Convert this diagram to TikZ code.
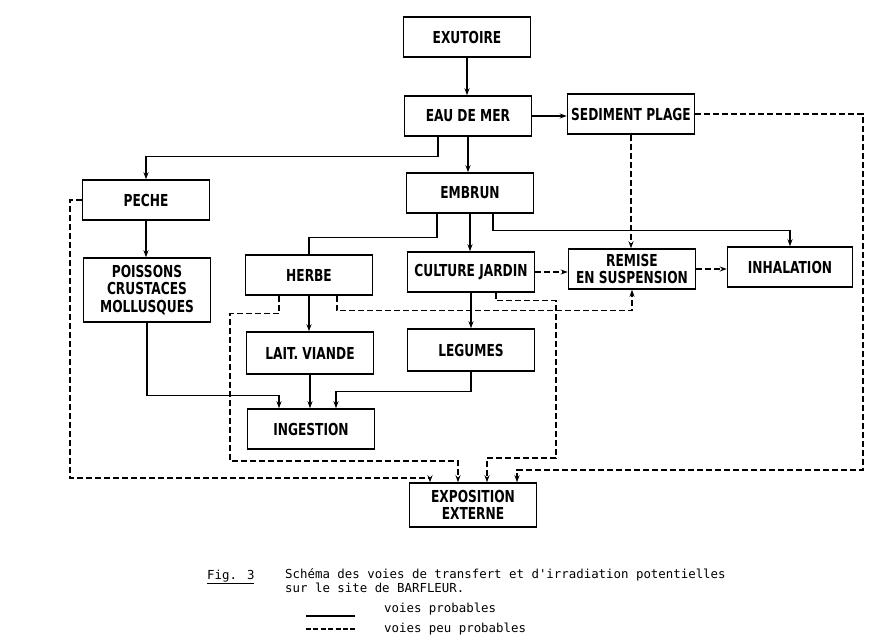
\documentclass[tikz,border=0pt]{standalone}
\usepackage{fontspec}
\usetikzlibrary{arrows.meta}
\newfontfamily\boxfont{DejaVu Sans}[FakeStretch=0.74]
\newfontfamily\capfont{DejaVu Sans Mono}
\begin{document}
\begin{tikzpicture}[x=1pt,y=-1pt,
box/.style={draw,line width=1.5pt,minimum width=127pt,minimum height=40pt,inner sep=0pt,align=center,font=\boxfont\bfseries\fontsize{16.5}{17.5}\selectfont},
pr/.style={line width=1.1pt},
pu/.style={line width=1.1pt,dash pattern=on 6pt off 3pt},
arr/.style={-{Stealth[length=7pt,width=5pt]}},
legtxt/.style={anchor=base west,inner sep=0pt,font=\capfont\fontsize{12.4}{14}\selectfont}]
\useasboundingbox (0,0) rectangle (878,638);
\node[box] (ex) at (467,37) {EXUTOIRE};
\node[box] (eau) at (468,116) {EAU DE MER};
\node[box] (sed) at (631,114) {SEDIMENT PLAGE};
\node[box] (pec) at (146,200) {PECHE};
\node[box] (emb) at (470,193) {EMBRUN};
\node[box,minimum height=64pt] (poi) at (147,290) {POISSONS\\CRUSTACES\\MOLLUSQUES};
\node[box] (her) at (309,275) {HERBE};
\node[box] (cul) at (471,272) {CULTURE JARDIN};
\node[box] (rem) at (632,269) {REMISE\\EN SUSPENSION};
\node[box,minimum width=125pt] (inh) at (790,267) {INHALATION};
\node[box,minimum height=42pt] (lai) at (310,353) {LAIT. VIANDE};
\node[box,minimum height=42pt] (leg) at (471,350) {LEGUMES};
\node[box] (ing) at (311,429) {INGESTION};
\node[box,minimum height=44pt] (exp) at (473,505) {EXPOSITION\\EXTERNE};
\coordinate (ws) at (863,470);
\coordinate (wh) at (230,461);
\coordinate (wc) at (556,458);
\coordinate (wp) at (70,478);
\draw[pr,arr] (ex.south) -- (ex.south |- eau.north);
\draw[pr,arr] (eau.east) -- (eau.east -| sed.west);
\draw[pr,arr] ([xshift=-30pt]eau.south) -- ++(0,20) -| (pec.north);
\draw[pr,arr] (eau.south) -- (eau.south |- emb.north);
\draw[pr] ([xshift=-33pt]emb.south) -- ++(0,24) -| (her.north);
\draw[pr,arr] (emb.south) -- (emb.south |- cul.north);
\draw[pr,arr] ([xshift=23pt]emb.south) -- ++(0,17) -| (inh.north);
\draw[pr,arr] (pec.south) -- (pec.south |- poi.north);
\draw[pr,arr] (her.south) -- (her.south |- lai.north);
\draw[pr,arr] (cul.south) -- (cul.south |- leg.north);
\draw[pr,arr] (lai.south) -- (lai.south |- ing.north);
\draw[pr,arr] (poi.south) |- ([xshift=-32pt,yshift=13pt]ing.north) -- ([xshift=-32pt]ing.north);
\draw[pr,arr] (leg.south) |- ([xshift=25pt,yshift=17pt]ing.north) -- ([xshift=25pt]ing.north);
\draw[pu,arr] (sed.south) -- (sed.south |- rem.north);
\draw[pu,arr] (cul.east) -- (cul.east -| rem.west);
\draw[pu,arr] (rem.east) -- (rem.east -| inh.west);
\draw[pu,arr] (sed.east) -| (ws) -| ([xshift=44pt]exp.north);
\draw[pu,arr] ([xshift=-30pt]her.south) -- ++(0,18) -| (wh) -| ([xshift=-15pt]exp.north);
\draw[pu,arr] ([xshift=28pt]her.south) -- ++(0,15) -| (rem.south);
\draw[pu,arr] ([xshift=25pt]cul.south) -- ++(0,8) -| (wc) -| ([xshift=14pt]exp.north);
\draw[pu,arr] (pec.west) -| (wp) -| ([xshift=-43pt]exp.north);
\node[legtxt] (fig) at (207,579) {\underline{Fig. 3}};
\node[legtxt] (t1) at (285,578) {Schéma des voies de transfert et d'irradiation potentielles};
\node[legtxt] (t2) at (285,592) {sur le site de BARFLEUR.};
\node[legtxt] (l1) at (384,612) {voies probables};
\node[legtxt] (l2) at (384,632) {voies peu probables};
\draw[pr] (306,616) -- (355,616);
\draw[pr,dash pattern=on 5pt off 2.4pt] (306,629) -- (355,629);
\end{tikzpicture}
\end{document}
